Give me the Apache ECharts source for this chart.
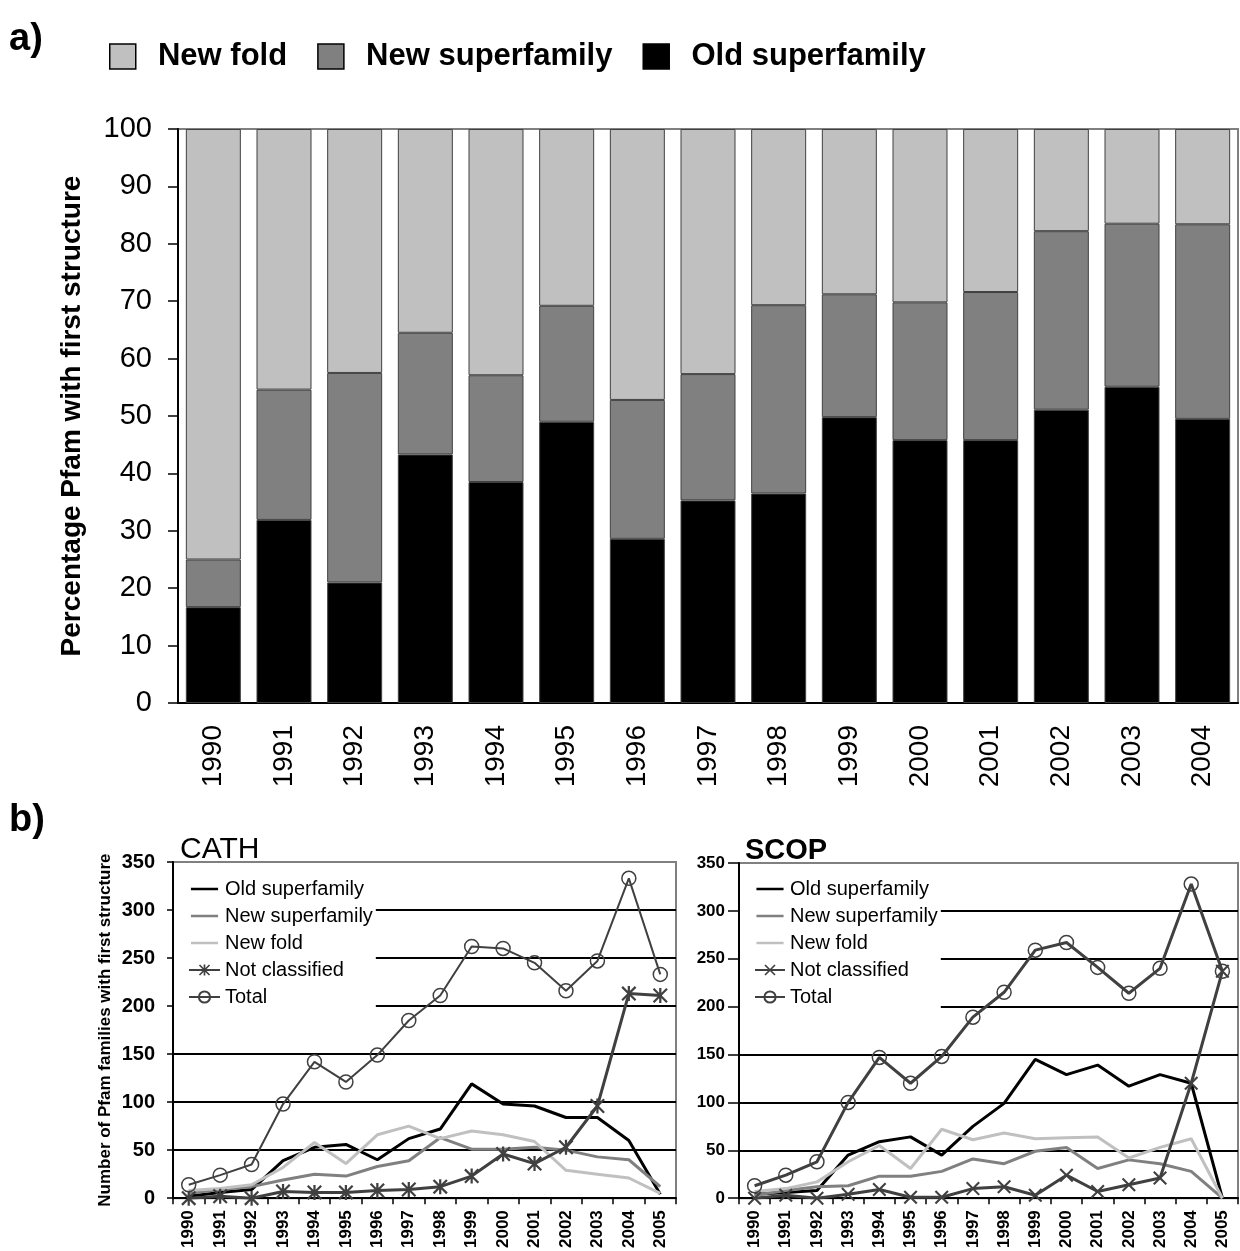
<!DOCTYPE html>
<html>
<head>
    <meta charset="UTF-8">
    <title>Pfam first structures</title>
    <script src="https://cdn.jsdelivr.net/npm/echarts@6/dist/echarts.min.js"></script>
    <style>
        html, body { margin: 0; padding: 0; background: #fff; }
    </style>
</head>
<body>
<div id="chart" style="width:1240px; height:1251px;"></div>
<script>
    var FONT = '"Liberation Sans", Arial, sans-serif';

    // a) percentage of Pfam families with first structure
    var yearsA = ['1990', '1991', '1992', '1993', '1994', '1995', '1996', '1997',
        '1998', '1999', '2000', '2001', '2002', '2003', '2004'];
    var oldPct = [16.7, 31.9, 21.0, 43.3, 38.5, 49.0, 28.6, 35.3, 36.5, 49.8, 45.8, 45.8, 51.1, 55.1, 49.5];
    var newSuperPct = [8.3, 22.7, 36.5, 21.2, 18.6, 20.2, 24.2, 22.0, 32.8, 21.4, 24.0, 25.8, 31.1, 28.4, 33.9];
    var newFoldPct = [75.0, 45.4, 42.5, 35.5, 42.9, 30.8, 47.2, 42.7, 30.7, 28.8, 30.2, 28.4, 17.8, 16.5, 16.6];

    // b) number of Pfam families with first structure
    var yearsB = ['1990', '1991', '1992', '1993', '1994', '1995', '1996', '1997',
        '1998', '1999', '2000', '2001', '2002', '2003', '2004', '2005'];
    var cathOld = [2, 6, 9, 39, 53, 56, 40, 62, 72, 119, 98, 96, 84, 84, 60, 4];
    var cathNewSuper = [5, 9, 12, 19, 25, 23, 33, 39, 63, 51, 51, 53, 50, 43, 40, 12];
    var cathNewFold = [8, 10, 14, 32, 58, 36, 66, 75, 62, 70, 66, 59, 29, 25, 21, 5];
    var cathNotClass = [0, 2, 0, 7, 6, 6, 8, 9, 12, 23, 46, 36, 53, 96, 213, 211];
    var cathTotal = [14, 24, 35, 98, 142, 121, 149, 185, 211, 262, 260, 245, 216, 247, 333, 233];

    var scopOld = [4, 6, 8, 45, 59, 64, 45, 75, 99, 145, 129, 139, 117, 129, 120, 0];
    var scopNewSuper = [3, 8, 12, 13, 23, 23, 28, 41, 36, 49, 53, 31, 40, 36, 28, 0];
    var scopNewFold = [7, 10, 17, 38, 55, 31, 72, 61, 68, 62, 63, 64, 42, 53, 62, 0];
    var scopNotClass = [0, 3, 0, 4, 9, 1, 1, 10, 12, 3, 24, 7, 14, 21, 120, 237];
    var scopTotal = [13, 24, 38, 100, 147, 120, 148, 189, 215, 259, 267, 241, 214, 240, 328, 237];

    var lineNames = ['Old superfamily', 'New superfamily', 'New fold', 'Not classified', 'Total'];

    // marker shapes (excel style star and cross)
    var STAR = 'path://M8.5 0L11.5 0L11.5 20L8.5 20Z M2.1 0L20 17.9L17.9 20L0 2.1Z M17.9 0L20 2.1L2.1 20L0 17.9Z';
    var CROSS = 'path://M2.1 0L20 17.9L17.9 20L0 2.1Z M17.9 0L20 2.1L2.1 20L0 17.9Z';
    // plain line legend icon (tiny dots at top/bottom keep the box full height)
    var LINE_ICON = 'path://M0 0L0.01 0L0 0.01Z M0 6.5L31 6.5L31 9.5L0 9.5Z M0 16L0.01 16L0 15.99Z';

    function lineSeries(prefix, idx, name, data, color, width, symbol, symbolSize, hollow) {
        var s = {
            name: prefix + '|' + name,
            type: 'line',
            xAxisIndex: idx,
            yAxisIndex: idx,
            data: data,
            symbol: symbol || 'none',
            symbolSize: symbolSize || 0,
            showSymbol: !!symbol,
            lineStyle: {color: color, width: width},
            itemStyle: {color: color},
            emphasis: {disabled: true}
        };
        if (hollow) {
            s.itemStyle = {color: 'rgba(0,0,0,0)', borderColor: color, borderWidth: 1.5};
        }
        return s;
    }

    function bottomX(idx) {
        return {
            type: 'category', gridIndex: idx, data: yearsB,
            axisLine: {lineStyle: {color: '#000', width: 2}},
            axisTick: {show: true, inside: false, length: 6, lineStyle: {color: '#000', width: 1.5}},
            axisLabel: {rotate: 90, interval: 0, margin: 12, fontSize: 17, fontWeight: 'bold',
                color: '#000', fontFamily: FONT}
        };
    }

    function bottomY(idx, fontSize, margin, tickLen) {
        return {
            type: 'value', gridIndex: idx, min: 0, max: 350, interval: 50,
            axisLine: {show: true, lineStyle: {color: '#000', width: 2}},
            axisTick: {show: true, length: tickLen, lineStyle: {color: '#000', width: 1.5}},
            axisLabel: {fontSize: fontSize, fontWeight: 'bold', margin: margin, color: '#000', fontFamily: FONT},
            splitLine: {show: true, showMaxLine: false, lineStyle: {color: '#000', width: 1.8}}
        };
    }

    function bottomLegend(prefix, left, iconW) {
        return {
            orient: 'vertical', left: left, top: 873,
            padding: [6, 3, 4, 14],
            backgroundColor: '#fff',
            itemWidth: iconW, itemHeight: 14, itemGap: 7,
            selectedMode: false,
            data: lineNames.map(function (n, i) {
                var item = {name: prefix + '|' + n};
                if (i < 3) item.icon = LINE_ICON;
                return item;
            }),
            formatter: function (n) { return n.split('|')[1]; },
            textStyle: {fontSize: 20, color: '#000', fontFamily: FONT}
        };
    }

    var chart = echarts.init(document.getElementById('chart'), null, {renderer: 'canvas'});

    var option = {
        animation: false,
        backgroundColor: '#fff',
        textStyle: {fontFamily: FONT},
        graphic: [
            {type: 'text', left: 9, top: 21, style: {text: 'a)', font: 'bold 38px ' + FONT, fill: '#000'}},
            {type: 'text', left: 9, top: 802, style: {text: 'b)', font: 'bold 38px ' + FONT, fill: '#000'}},
            {type: 'text', left: 180, top: 835, style: {text: 'CATH', font: '30px ' + FONT, fill: '#000'}},
            {type: 'text', left: 745, top: 836, style: {text: 'SCOP', font: 'bold 29px ' + FONT, fill: '#000'}}
        ],
        legend: [
            {
                left: 109, top: 41, padding: 0,
                itemWidth: 26, itemHeight: 25, itemGap: 30,
                icon: 'rect',
                selectedMode: false,
                data: ['New fold', 'New superfamily', 'Old superfamily'],
                formatter: '  {name}',
                itemStyle: {borderColor: '#000', borderWidth: 1.5},
                textStyle: {fontSize: 31, fontWeight: 'bold', color: '#000', fontFamily: FONT}
            },
            bottomLegend('CATH', 174, 31),
            bottomLegend('SCOP', 740, 30)
        ],
        grid: [
            {left: 178, top: 129, width: 1060, height: 574, show: true,
                borderColor: '#808080', borderWidth: 2, backgroundColor: '#fff'},
            {left: 173, top: 862, width: 503, height: 338, show: true,
                borderColor: '#808080', borderWidth: 2, backgroundColor: 'rgba(0,0,0,0)'},
            {left: 739, top: 863, width: 499, height: 337, show: true,
                borderColor: '#808080', borderWidth: 2, backgroundColor: 'rgba(0,0,0,0)'}
        ],
        xAxis: [
            {
                type: 'category', gridIndex: 0, data: yearsA,
                axisLine: {lineStyle: {color: '#000', width: 2}},
                axisTick: {show: false},
                axisLabel: {rotate: 90, interval: 0, margin: 22, fontSize: 28, color: '#000', fontFamily: FONT}
            },
            bottomX(1),
            bottomX(2)
        ],
        yAxis: [
            {
                type: 'value', gridIndex: 0, min: 0, max: 100, interval: 10,
                name: 'Percentage Pfam with first structure',
                nameLocation: 'middle', nameGap: 92,
                nameTextStyle: {fontSize: 28, fontWeight: 'bold', color: '#000', fontFamily: FONT},
                axisLine: {show: true, lineStyle: {color: '#000', width: 2}},
                axisTick: {show: true, length: 10, lineStyle: {color: '#000', width: 1.5}},
                axisLabel: {fontSize: 29, margin: 26, color: '#000', fontFamily: FONT},
                splitLine: {show: false}
            },
            Object.assign(bottomY(1, 20, 18, 6), {
                name: 'Number of Pfam families with first structure',
                nameLocation: 'middle', nameGap: 59,
                nameTextStyle: {fontSize: 17, fontWeight: 'bold', color: '#000', fontFamily: FONT,
                    padding: [0, 0, 0, 0]}
            }),
            bottomY(2, 17, 14, 11)
        ],
        series: [
            {name: 'Old superfamily', type: 'bar', stack: 'pct', xAxisIndex: 0, yAxisIndex: 0,
                barWidth: 55, data: oldPct,
                itemStyle: {color: '#000000', borderColor: '#404040', borderWidth: 1}},
            {name: 'New superfamily', type: 'bar', stack: 'pct', xAxisIndex: 0, yAxisIndex: 0,
                barWidth: 55, data: newSuperPct,
                itemStyle: {color: '#808080', borderColor: '#404040', borderWidth: 1}},
            {name: 'New fold', type: 'bar', stack: 'pct', xAxisIndex: 0, yAxisIndex: 0,
                barWidth: 55, data: newFoldPct,
                itemStyle: {color: '#c0c0c0', borderColor: '#404040', borderWidth: 1}},

            lineSeries('CATH', 1, lineNames[0], cathOld, '#000000', 3),
            lineSeries('CATH', 1, lineNames[1], cathNewSuper, '#808080', 3),
            lineSeries('CATH', 1, lineNames[2], cathNewFold, '#c0c0c0', 3),
            lineSeries('CATH', 1, lineNames[3], cathNotClass, '#404040', 3, STAR, 15),
            lineSeries('CATH', 1, lineNames[4], cathTotal, '#404040', 2, 'circle', 14, true),

            lineSeries('SCOP', 2, lineNames[0], scopOld, '#000000', 3),
            lineSeries('SCOP', 2, lineNames[1], scopNewSuper, '#808080', 3),
            lineSeries('SCOP', 2, lineNames[2], scopNewFold, '#c0c0c0', 3),
            lineSeries('SCOP', 2, lineNames[3], scopNotClass, '#404040', 3, CROSS, 14),
            lineSeries('SCOP', 2, lineNames[4], scopTotal, '#404040', 3, 'circle', 14, true)
        ]
    };

    chart.setOption(option);
</script>
</body>
</html>
